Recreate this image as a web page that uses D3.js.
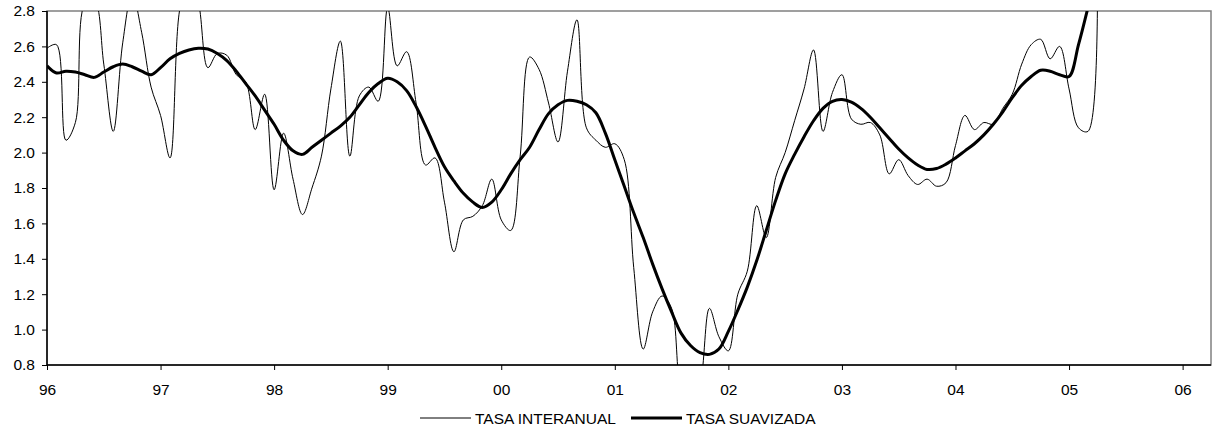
<!DOCTYPE html>
<html>
<head>
<meta charset="utf-8">
<script src="https://cdn.jsdelivr.net/npm/d3@7"></script>
<style>
body { margin: 0; background: #fff; }
text { font-family: "Liberation Sans", Arial, sans-serif; fill: #000; }
</style>
</head>
<body>
<svg width="1213" height="428"></svg>
<script>
// monthly data, first value = Jan 1996
var startYear = 1996;

var tasaInteranual = [
	2.59, 2.61, 2.07, 2.17, 2.84, 2.86, 2.50, 2.12, 2.62, 2.90, 2.68, 2.37,
	2.21, 1.97, 2.80, 3.00, 2.85, 2.48, 2.56, 2.55, 2.44, 2.40, 2.13, 2.33,
	1.79, 2.11, 1.85, 1.65, 1.80, 1.98, 2.36, 2.63, 1.98, 2.32, 2.37, 2.29,
	2.82, 2.49, 2.57, 2.28, 1.93, 1.97, 1.72, 1.44, 1.62, 1.64, 1.70, 1.85,
	1.62, 1.56, 1.98, 2.54, 2.47, 2.28, 2.06, 2.46, 2.75, 2.14, 2.07, 2.03,
	2.05, 1.96, 1.35, 0.89, 1.10, 1.19, 1.12, 0.65, 0.55, 0.68, 1.12, 0.96,
	0.88, 1.20, 1.33, 1.70, 1.52, 1.86, 2.00, 2.18, 2.36, 2.58, 2.12, 2.34,
	2.44, 2.19, 2.16, 2.17, 2.10, 1.88, 1.96, 1.87, 1.82, 1.85, 1.81, 1.83,
	2.04, 2.21, 2.13, 2.17, 2.16, 2.25, 2.33, 2.50, 2.61, 2.64, 2.53, 2.60,
	2.36, 2.14, 2.12, 3.10
];

var tasaSuavizada = [
	2.49, 2.45, 2.46, 2.455, 2.44, 2.425, 2.455, 2.485, 2.50, 2.485, 2.46, 2.44,
	2.48, 2.53, 2.56, 2.58, 2.59, 2.585, 2.56, 2.52, 2.46, 2.39, 2.32, 2.24,
	2.16, 2.07, 2.01, 1.99, 2.03, 2.07, 2.11, 2.15, 2.20, 2.27, 2.34, 2.39,
	2.42, 2.40, 2.35, 2.26, 2.15, 2.03, 1.92, 1.84, 1.77, 1.72, 1.69, 1.72,
	1.79, 1.88, 1.96, 2.03, 2.13, 2.22, 2.27, 2.295, 2.29, 2.27, 2.225, 2.11,
	1.96, 1.81, 1.66, 1.52, 1.37, 1.23, 1.10, 0.98, 0.91, 0.87, 0.86, 0.89,
	0.99, 1.11, 1.24, 1.39, 1.56, 1.73, 1.88, 1.99, 2.09, 2.18, 2.25, 2.29,
	2.30, 2.285, 2.25, 2.20, 2.14, 2.08, 2.02, 1.97, 1.93, 1.905, 1.91, 1.935,
	1.97, 2.01, 2.05, 2.10, 2.16, 2.23, 2.31, 2.38, 2.43, 2.465, 2.46, 2.44,
	2.43, 2.61, 2.82, 3.05
];

var yTicks = [0.8, 1.0, 1.2, 1.4, 1.6, 1.8, 2.0, 2.2, 2.4, 2.6, 2.8];
var xTicks = [1996, 1997, 1998, 1999, 2000, 2001, 2002, 2003, 2004, 2005, 2006];
var xTickLabels = ["96", "97", "98", "99", "00", "01", "02", "03", "04", "05", "06"];
var seriesNames = ["TASA INTERANUAL", "TASA SUAVIZADA"];

var svg = d3.select("svg");
var plotLeft = 47, plotTop = 11, plotRight = 1211, plotBottom = 365;

var x = d3.scaleLinear().domain([1996, 2006.25]).range([plotLeft, plotRight]);
var y = d3.scaleLinear().domain([0.8, 2.8]).range([plotBottom, plotTop]);

var toPoints = function(values) {
	return values.map(function(v, i) { return { date: startYear + i / 12, value: v }; });
}

svg.append("clipPath").attr("id", "plot")
	.append("rect")
	.attr("x", plotLeft).attr("y", plotTop)
	.attr("width", plotRight - plotLeft).attr("height", plotBottom - plotTop);

// plot frame
svg.append("rect")
	.attr("x", plotLeft).attr("y", plotTop)
	.attr("width", plotRight - plotLeft).attr("height", plotBottom - plotTop)
	.attr("fill", "none")
	.attr("stroke", "#808080")
	.attr("stroke-width", 1.5);

var yAxis = svg.append("g")
	.attr("transform", "translate(" + plotLeft + ",0)")
	.call(d3.axisLeft(y).tickValues(yTicks).tickFormat(d3.format(".1f")).tickSize(5).tickPadding(7));

var xAxis = svg.append("g")
	.attr("transform", "translate(0," + plotBottom + ")")
	.call(d3.axisBottom(x).tickValues(xTicks)
		.tickFormat(function(d, i) { return xTickLabels[i]; })
		.tickSize(5).tickPadding(14));

[yAxis, xAxis].forEach(function(a) {
	a.select(".domain").remove();
	a.selectAll("text").style("font-size", "15.5px").attr("fill", "#000");
	a.selectAll("line").attr("stroke", "#000");
});

svg.append("line")
	.attr("x1", plotLeft).attr("x2", plotLeft).attr("y1", plotTop).attr("y2", plotBottom + 0.5)
	.attr("stroke", "#000").attr("stroke-width", 1.5);
svg.append("line")
	.attr("x1", plotLeft).attr("x2", plotRight).attr("y1", plotBottom).attr("y2", plotBottom)
	.attr("stroke", "#000").attr("stroke-width", 1.5);

var line = d3.line()
	.x(function(d) { return x(d.date); })
	.y(function(d) { return y(d.value); })
	.curve(d3.curveCatmullRom);

var g = svg.append("g").attr("clip-path", "url(#plot)");

g.append("path")
	.datum(toPoints(tasaInteranual))
	.attr("d", line)
	.attr("fill", "none")
	.attr("stroke", "#000")
	.attr("stroke-width", 1);

g.append("path")
	.datum(toPoints(tasaSuavizada))
	.attr("d", line)
	.attr("fill", "none")
	.attr("stroke", "#000")
	.attr("stroke-width", 3)
	.attr("stroke-linejoin", "round");

// legend
var legend = svg.append("g").attr("transform", "translate(0,418)");
var legendItems = [
	{ name: seriesNames[0], x: 420, width: 1 },
	{ name: seriesNames[1], x: 631, width: 3 }
];
legendItems.forEach(function(item) {
	legend.append("line")
		.attr("x1", item.x).attr("x2", item.x + 51)
		.attr("y1", 0).attr("y2", 0)
		.attr("stroke", "#000")
		.attr("stroke-width", item.width);
	legend.append("text")
		.attr("x", item.x + 55)
		.attr("y", 6)
		.style("font-size", "15.5px")
		.text(item.name);
});
</script>
</body>
</html>
